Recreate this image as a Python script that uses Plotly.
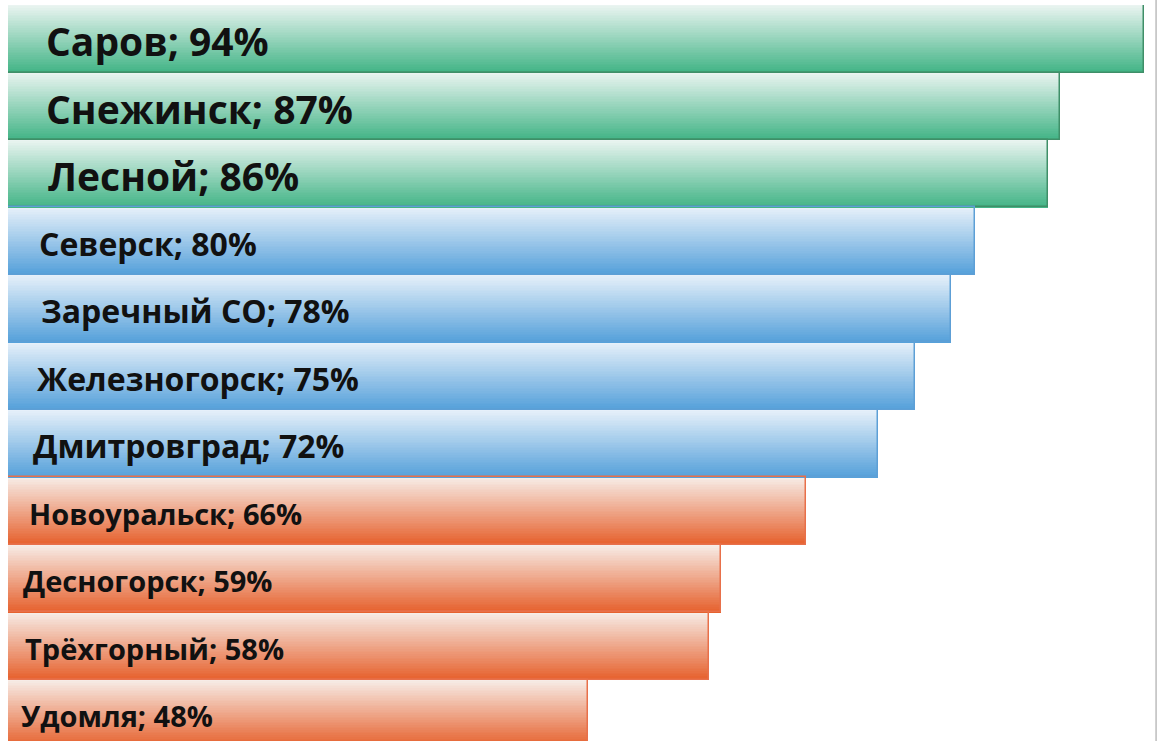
import plotly.graph_objects as go

# ---- data ----
cities = ["Саров", "Снежинск", "Лесной", "Северск", "Заречный СО", "Железногорск",
          "Дмитровград", "Новоуральск", "Десногорск", "Трёхгорный", "Удомля"]
values = [94, 87, 86, 80, 78, 75, 72, 66, 59, 58, 48]
groups = ["g", "g", "g", "b", "b", "b", "b", "o", "o", "o", "o"]

# ---- style ----
top_col = {"g": (236, 245, 242), "b": (232, 241, 250), "o": (247, 238, 233)}
bot_col = {"g": (66, 180, 134), "b": (84, 160, 218), "o": (230, 96, 44)}
line_col = {"g": "#3f8f68", "b": "#5d9fd6", "o": "#e8704a"}
font_size = {"g": 39, "b": 32, "o": 29}
label_shift = [36, 36, 38, 29, 31, 27, 23, 19, 13, 15, 11]

def mix(a, b, t):
    return "rgb(%d,%d,%d)" % tuple(round(a[i] + (b[i] - a[i]) * t) for i in range(3))

ypos = list(range(len(cities)))
K = 40
fig = go.Figure()
for k in range(K):
    t = (k + 0.5) / K
    fig.add_trace(go.Bar(
        x=values, y=ypos, orientation="h",
        width=1.0 / K + 0.002, offset=-0.5 + k / K,
        marker=dict(color=[mix(top_col[g], bot_col[g], t) for g in groups], line_width=0),
        hoverinfo="skip", showlegend=False,
    ))
# outline
fig.add_trace(go.Bar(
    x=values, y=ypos, orientation="h", width=1.0, offset=-0.5,
    marker=dict(color="rgba(0,0,0,0)", line=dict(color=[line_col[g] for g in groups], width=1.5)),
    hoverinfo="skip", showlegend=False,
))

for i, (c, v, g) in enumerate(zip(cities, values, groups)):
    fig.add_annotation(
        x=0, y=i, xref="x", yref="y", xanchor="left", yanchor="middle",
        text=f"{c}; {v}%", showarrow=False, xshift=label_shift[i], yshift=-2,
        font=dict(family="Open Sans", size=font_size[g], color="#111111", weight="bold"),
    )

fig.add_shape(type="line", xref="paper", yref="paper", x0=0.9993, x1=0.9993, y0=0, y1=1.01,
              line=dict(color="#c8c8c8", width=2))

fig.update_layout(
    width=1157, height=741,
    margin=dict(l=8, r=0, t=5, b=0),
    paper_bgcolor="white", plot_bgcolor="white",
    barmode="overlay", bargap=0,
    xaxis=dict(range=[0, 95.05], visible=False, fixedrange=True),
    yaxis=dict(range=[10.404, -0.5], visible=False, fixedrange=True),
    showlegend=False,
)
fig.write_html("out.html", config={"displayModeBar": False},
               post_script="document.body.style.margin='0';document.body.style.overflow='hidden';")
